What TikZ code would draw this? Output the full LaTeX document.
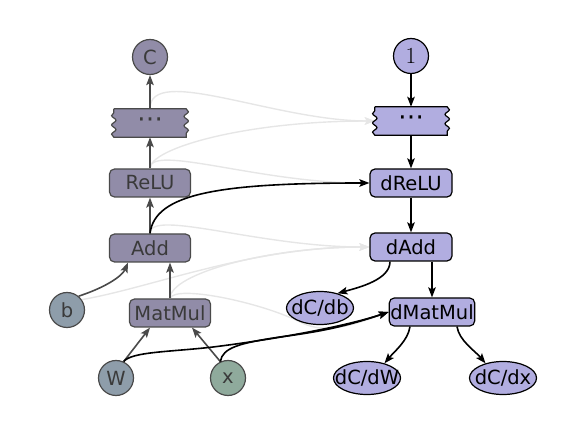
\documentclass[tikz,border=0pt]{standalone}
\usepackage{fontspec}
\setsansfont{DejaVu Sans}
\newfontfamily\dvs{DejaVu Sans}
\usetikzlibrary{shapes.geometric,arrows.meta,decorations.pathmorphing,backgrounds}
\definecolor{lfill}{HTML}{918CA8}
\definecolor{lborder}{HTML}{4A4A4A}
\definecolor{ltext}{HTML}{3A3A3A}
\definecolor{bfill}{HTML}{8E9DAA}
\definecolor{xfill}{HTML}{8FAA9C}
\definecolor{rfill}{HTML}{B1ADE0}
\definecolor{ggray}{HTML}{E6E6E6}
\tikzset{
  lab/.style={font=\sffamily\fontsize{19.5}{22}\selectfont},
  lbox/.style={lab,rectangle,rounded corners=5pt,draw=lborder,fill=lfill,text=ltext,line width=1.2pt,minimum width=81pt,minimum height=28pt,inner sep=1pt},
  rbox/.style={lab,rectangle,rounded corners=5pt,draw=black,fill=rfill,text=black,line width=1.2pt,minimum width=82pt,minimum height=28pt,inner sep=1pt},
  lcirc/.style={lab,circle,draw=lborder,fill=lfill,text=ltext,line width=1.2pt,minimum size=35pt,inner sep=0pt},
  bcirc/.style={lcirc,fill=bfill},
  xcirc/.style={lcirc,fill=xfill},
  rcirc/.style={lab,circle,draw=black,fill=rfill,text=black,line width=1.2pt,minimum size=35pt,inner sep=0pt},
  rell/.style={lab,ellipse,draw=black,fill=rfill,text=black,line width=1.2pt,minimum width=67pt,minimum height=33pt,inner sep=0pt},
  tapenode/.style={font=\dvs\fontsize{26}{28}\selectfont,rectangle,minimum width=72pt,minimum height=28pt,inner sep=0pt},
  larr/.style={draw=lborder,line width=1.6pt,-{Stealth[length=10pt,width=7.5pt,inset=2pt]}},
  barr/.style={draw=black,line width=1.6pt,-{Stealth[length=10pt,width=7.5pt,inset=2pt]}},
  garr/.style={draw=ggray,line width=1.4pt,-{Stealth[length=10pt,width=7.5pt,inset=2pt]}},
  wavy/.style={decoration={snake,segment length=9.33pt,amplitude=2.2pt}}
}
\newcommand{\tapeshape}[3]{%
  \path[draw=#3,fill=#2,line width=1.2pt]
    (#1.north west) -- (#1.north east)
    decorate[wavy]{-- (#1.south east)}
    -- (#1.south west)
    decorate[wavy]{-- (#1.north west)} -- cycle;}
\begin{document}
\begin{tikzpicture}[x=1pt,y=-1pt]
\useasboundingbox (0,0) rectangle (584,430);
% forward graph
\node[lcirc] (C) at (150,57) {C};
\node[tapenode,text=ltext] (dL) at (150,123) {⋯};
\node[lbox] (relu) at (150,183) {ReLU};
\node[lbox] (add) at (150,248) {Add};
\node[bcirc] (b) at (67,310) {b};
\node[lbox] (mm) at (170,313) {MatMul};
\node[bcirc] (W) at (116,378) {W};
\node[xcirc] (x) at (228,378) {x};
% backward graph
\node[rcirc] (one) at (411,56) {\rmfamily\fontsize{23}{25}\selectfont 1};
\node[tapenode,text=black] (dR) at (411,121) {⋯};
\node[rbox] (drelu) at (411,183) {dReLU};
\node[rbox] (dadd) at (411,247) {dAdd};
\node[rell] (db) at (320,308) {\makebox[0pt]{dC/db}};
\node[rbox] (dmm) at (432,312) {dMatMul};
\node[rell] (dW) at (367,378) {\makebox[0pt]{dC/dW}};
\node[rell] (dx) at (503,378) {\makebox[0pt]{dC/dx}};
\begin{pgfonlayer}{background}
  \draw[garr] (dL.north) .. controls +(0,-45) and +(-100,0) .. (dR.west);
  \draw[garr] (relu.north) .. controls +(0,-20) and +(-130,0) .. (dR.west);
  \draw[garr] (relu.north) .. controls +(0,-25) and +(-110,0) .. (drelu.west);
  \draw[garr] (add.north) .. controls +(0,-25) and +(-110,0) .. (dadd.west);
  \draw[garr] (mm.north) .. controls +(0,-25) and +(-100,0) .. (dadd.west);
  \draw[garr] (b.35) .. controls +(70,-12) and +(-120,0) .. (dadd.west);
  \draw[garr] (mm.north) .. controls +(5,-14) and +(-40,-20) .. (300,322)
     .. controls +(20,10) and +(-48,18) .. (dmm.west);
  \tapeshape{dL}{lfill}{lborder}
  \tapeshape{dR}{rfill}{black}
\end{pgfonlayer}
% forward edges
\draw[larr] (dL.north) -- (C.south);
\draw[larr] (relu.north) -- (dL.south);
\draw[larr] (add.north) -- (relu.south);
\draw[larr] (mm.north) -- (mm.north |- add.south);
\draw[larr] (b.50) .. controls +(25,-8) and +(-6,14) .. ([xshift=-22pt]add.south);
\draw[larr] (W.65) -- ([xshift=-20pt]mm.south);
\draw[larr] (x.115) -- ([xshift=22pt]mm.south);
% backward edges
\draw[barr] (one.south) -- (dR.north);
\draw[barr] (dR.south) -- (drelu.north);
\draw[barr] (drelu.south) -- (dadd.north);
\draw[barr] ([xshift=-21pt]dadd.south) .. controls +(0,18) and +(22,-6) .. (db.40);
\draw[barr] (dmm.north |- dadd.south) -- (dmm.north);
\draw[barr] ([xshift=-22pt]dmm.south) .. controls +(-2,14) and +(10,-12) .. (dW.40);
\draw[barr] ([xshift=25pt]dmm.south) .. controls +(2,14) and +(-10,-12) .. (dx.140);
% cross edges
\draw[barr] (add.north) .. controls +(5,-40) and +(-150,0) .. (drelu.west);
\draw[barr] (W.65) .. controls +(8,-10) and (170,352) .. (213,347)
   .. controls (270,340) and +(-45,15) .. (dmm.west);
\draw[barr] (x.115) .. controls +(2,-14) and (240,343) .. (280,337)
   .. controls (325,331) and +(-42,14) .. (dmm.west);
\end{tikzpicture}
\end{document}
